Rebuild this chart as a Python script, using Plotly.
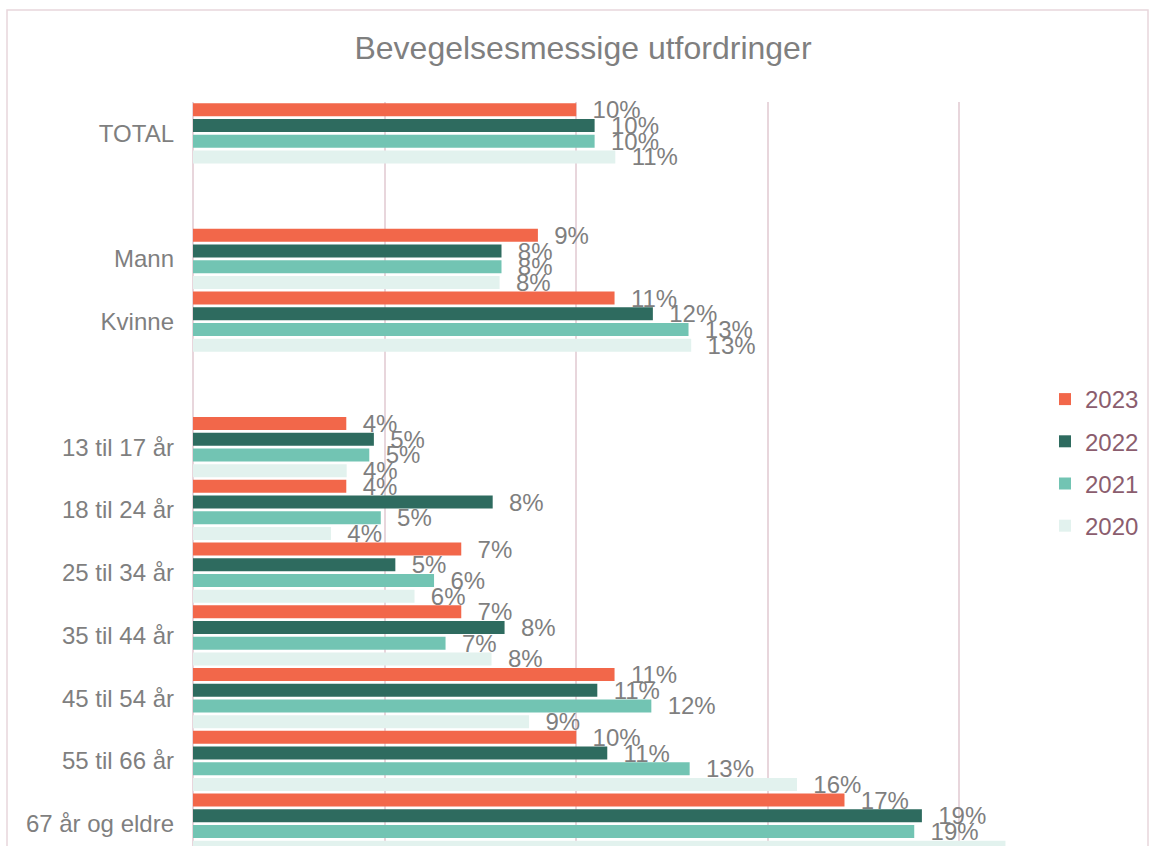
import plotly.graph_objects as go

# ---- data ----
categories = ["TOTAL", " ", "Mann", "Kvinne", "  ",
              "13 til 17 år", "18 til 24 år", "25 til 34 år", "35 til 44 år",
              "45 til 54 år", "55 til 66 år", "67 år og eldre"]
years = ["2023", "2022", "2021", "2020"]
v2023 = [10.0, None, 9.0, 11.0, None, 4.0, 4.0, 7.0, 7.0, 11.0, 10.0, 17.0]
v2022 = [10.48, None, 8.05, 12.0, None, 4.72, 7.82, 5.28, 8.13, 10.55, 10.81, 19.02]
v2021 = [10.48, None, 8.05, 12.93, None, 4.6, 4.9, 6.29, 6.59, 11.96, 12.96, 18.82]
v2020 = [11.02, None, 8.0, 13.0, None, 4.01, 3.6, 5.78, 7.79, 8.77, 15.76, 21.2]
series = [v2023, v2022, v2021, v2020]
colors = ["#F2674A", "#2E6B5F", "#72C4B3", "#E2F2EE"]

FONT = "Liberation Sans, Arial, sans-serif"
GRID = "#E8D6DC"
GRAY = "#7F7F7F"

W, H = 1151, 846
L, R, T, B = 193, 1030, 102, 0
pw, ph = R - L, H - T - B

fig = go.Figure()
for yr, vals, col in zip(years, series, colors):
    fig.add_trace(go.Bar(
        y=categories, x=vals, name=yr, orientation="h",
        marker=dict(color=col, line=dict(width=0)),
        texttemplate="\u00a0\u00a0%{x:.0f}%", textposition="outside",
        textfont=dict(family=FONT, size=24, color=GRAY),
        constraintext="none", cliponaxis=False,
        legendgroup=yr,
    ))

fig.update_layout(
    width=W, height=H,
    margin=dict(l=L, r=W - R, t=T, b=B, pad=0),
    paper_bgcolor="white", plot_bgcolor="white",
    barmode="group", bargap=0, bargroupgap=0.17,
    font=dict(family=FONT, size=24, color=GRAY),
    title=dict(text="Bevegelsesmessige utfordringer", x=583 / W, xanchor="center",
               xref="container", y=1 - 48 / H, yanchor="middle", yref="container",
               font=dict(family=FONT, size=32, color=GRAY)),
    xaxis=dict(range=[0, (R - 193.5) / 38.3], showticklabels=False, ticks="",
               showgrid=True, gridcolor=GRID, gridwidth=1.5, dtick=5, tick0=0,
               zeroline=True, zerolinecolor=GRID, zerolinewidth=1.5, showline=False),
    yaxis=dict(type="category", categoryorder="array", categoryarray=categories,
               range=[-0.5 + ph / 62.75, -0.5], showgrid=False, zeroline=False,
               showline=False, ticks="", ticklabelstandoff=18,
               tickfont=dict(family=FONT, size=24, color=GRAY)),
    legend=dict(x=(1045 - L) / pw, xanchor="left", y=(H - 377) / ph, yanchor="top",
                traceorder="grouped", tracegroupgap=8,
                font=dict(family=FONT, size=24, color="#8B5D6E"),
                bgcolor="rgba(0,0,0,0)", borderwidth=0),
    showlegend=True,
)

fig.add_shape(type="rect", xref="paper", yref="paper",
              x0=(7 - L) / pw, x1=(1148 - L) / pw, y0=-0.05, y1=(H - 10) / ph,
              line=dict(color=GRID, width=1.5), fillcolor="rgba(0,0,0,0)", layer="below")

fig.write_html("out.html", config={"displayModeBar": False},
               post_script="document.body.style.margin='0';document.body.style.overflow='hidden';")
